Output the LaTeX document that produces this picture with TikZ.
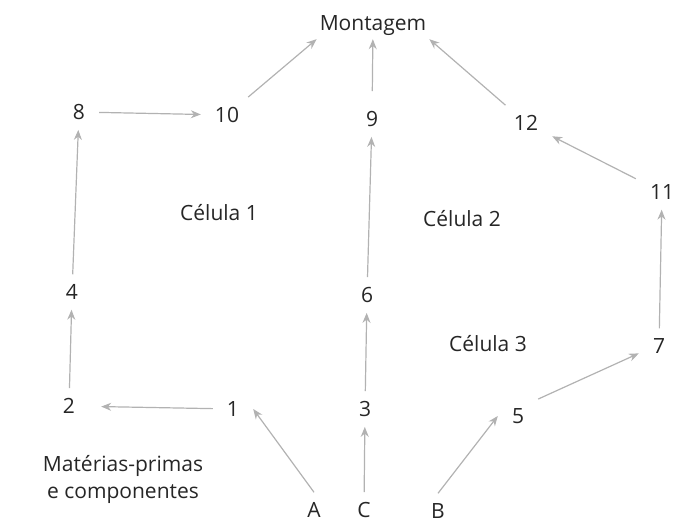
\documentclass[tikz,border=0pt]{standalone}
\usepackage{fontspec}
\setmainfont{Open Sans}
\usetikzlibrary{arrows.meta}
\begin{document}
\begin{tikzpicture}[x=1pt,y=-1pt,
  lbl/.style={font=\fontsize{21}{25}\selectfont, text=black!85, inner sep=0pt},
  num/.style={lbl, inner xsep=14pt, inner ysep=10pt},
  flow/.style={draw=black!30, line width=1.2pt, -{Stealth[length=10pt,width=8pt]}}]
\useasboundingbox (0,0) rectangle (677,526);
\node[lbl, inner sep=3pt] (mont) at (373,26) {Montagem};
\node[num] (n8) at (79,112) {8};
\node[num] (n10) at (227,115) {10};
\node[num] (n9) at (372,119) {9};
\node[num] (n12) at (526,123) {12};
\node[num] (n11) at (662,192) {11};
\node[num] (n4) at (72,292) {4};
\node[num] (n6) at (367,295) {6};
\node[num] (n7) at (659,346) {7};
\node[num] (n2) at (69,406) {2};
\node[num] (n1) at (233,409) {1};
\node[num] (n3) at (365,409) {3};
\node[num] (n5) at (518,416) {5};
\node[num] (nA) at (314,510) {A};
\node[num] (nC) at (364,510) {C};
\node[num] (nB) at (438,511) {B};
\node[lbl] (c1) at (219,213) {Célula 1};
\node[lbl] (c2) at (462,219) {Célula 2};
\node[lbl] (c3) at (488,344) {Célula 3};
\node[lbl, align=center, font=\fontsize{21}{27}\selectfont] (mp) at (123,479) {Matérias-primas\\e componentes};
\draw[flow] (n8) -- (n10);
\draw[flow] (n10) -- (mont.south west);
\draw[flow, shorten <=10pt] (n9) -- (mont);
\draw[flow] (n12) -- (mont.south east);
\draw[flow] (n11) -- (n12);
\draw[flow] (n7) -- (n11);
\draw[flow] (n5.40) -- (n7.200);
\draw[flow] (nB.north) -- (n5.west);
\draw[flow] (nC) -- (n3);
\draw[flow] (nA.north) -- (n1.east);
\draw[flow, shorten >=12pt] (n1) -- (n2);
\draw[flow] (n2) -- (n4);
\draw[flow] (n4) -- (n8);
\draw[flow] (n3) -- (n6);
\draw[flow] (n6) -- (n9);
\end{tikzpicture}
\end{document}
